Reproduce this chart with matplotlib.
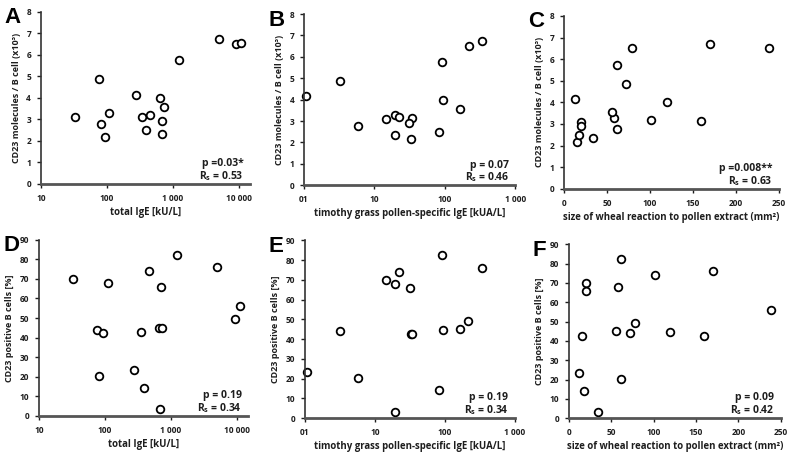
import numpy as np
import matplotlib
matplotlib.use("Agg")
import matplotlib.pyplot as plt
from matplotlib.ticker import FixedLocator, FixedFormatter, NullLocator

plt.rcParams['font.family'] = ['Open Sans', 'DejaVu Sans']
plt.rcParams['font.weight'] = 'bold'
plt.rcParams['mathtext.fontset'] = 'custom'
plt.rcParams['mathtext.rm'] = 'Open Sans:bold'

# one value per patient (17 patients)
total_ige = [33, 76, 82, 93, 110, 275, 345, 395, 460, 650, 685, 700, 740, 1250, 5000, 9200, 11000]
specific_ige = [14.5, 3.2, 5.8, 33, 19.5, 1.08, 33.8, 81.5, 22.3, 93, 19.5, 31.5, 164, 91, 335, 218, np.nan]
wheal = [20.3, 72.5, 61, 15, 58.5, 12.5, 159, 17.5, 101.5, 119.5, 34, 20.3, 55.3, 61.8, 169.5, 78.5, 238.5]
cd23_molecules = [3.1, 4.87, 2.77, 2.18, 3.28, 4.15, 3.12, 2.5, 3.2, 4.0, 2.33, 2.93, 3.55, 5.75, 6.72, 6.52, 6.53]
cd23_pct = [69.8, 44, 20.5, 42.5, 68, 23.3, 42.7, 14.3, 74, 44.8, 3.3, 66, 45, 82.3, 76, 49.3, 56]

ige_ticks = [10, 100, 1000, 10000]
ige_labels = ["10", "100", "1 000", "10 000"]
spec_ticks = [1, 10, 100, 1000]
spec_labels = ["01", "10", "100", "1 000"]

ylab_mol = "CD23 molecules / B cell (x10³)"
ylab_pct = "CD23 positive B cells [%]"
xlab_ige = "total IgE [kU/L]"
xlab_spec = "timothy grass pollen-specific IgE [kUA/L]"
xlab_wheal = "size of wheal reaction to pollen extract (mm²)"

stats = {
    "A": ("p =0.03*", "0.53"),
    "B": ("p = 0.07", "0.46"),
    "C": ("p =0.008**", "0.63"),
    "D": ("p = 0.19", "0.34"),
    "E": ("p = 0.19", "0.34"),
    "F": ("p = 0.09", "0.42"),
}

TXT = '#1e1e1e'

fig = plt.figure(figsize=(8, 4.55), dpi=100)


def panel(rect, letter, x, y, xlabel, ylabel, ymax, ystep, log=False,
          xticks=None, xlabels=None, xlim=None):
    ax = fig.add_axes(rect)
    ax.plot(x, y, 'o', ms=5.5, mfc='white', mec='black', mew=1.3, clip_on=False)
    if log:
        ax.set_xscale('log')
        ax.xaxis.set_major_locator(FixedLocator(xticks))
        ax.xaxis.set_major_formatter(FixedFormatter(xlabels))
        ax.xaxis.set_minor_locator(NullLocator())
    else:
        ax.set_xticks(np.arange(0, 251, 50))
    ax.set_xlim(*xlim)
    ax.set_ylim(0, ymax)
    ax.set_yticks(np.arange(0, ymax + 1, ystep))
    for s in ['top', 'right']:
        ax.spines[s].set_visible(False)
    ax.spines['bottom'].set_linewidth(2)
    ax.spines['bottom'].set_color('#555555')
    ax.spines['left'].set_linewidth(1.2)
    ax.spines['left'].set_color('#333333')
    ax.tick_params(axis='both', labelsize=6, colors=TXT, length=3, width=1, pad=4)
    for lab in ax.get_xticklabels() + ax.get_yticklabels():
        lab.set_fontweight('bold')
    ax.set_xlabel(xlabel, fontsize=6.9, color=TXT, labelpad=3, fontweight='bold')
    ax.set_ylabel(ylabel, fontsize=6.5, color=TXT, labelpad=4, fontweight='bold')
    p, r = stats[letter]
    ax.text(0.97, 0.085, p, transform=ax.transAxes, ha='right', va='bottom',
            fontsize=7.5, color=TXT)
    ax.text(0.97, 0.005, "R$_{\\mathregular{s}}$ = " + r, transform=ax.transAxes,
            ha='right', va='bottom', fontsize=7.5, color=TXT)
    fig.text(rect[0] - 0.045, rect[1] + rect[3] + 0.01, letter, fontsize=16,
             fontweight='bold', family='Liberation Sans', ha='left', va='top')
    return ax


panel([0.051, 0.596, 0.261, 0.378], "A", total_ige, cd23_molecules, xlab_ige, ylab_mol,
      8, 1, log=True, xticks=ige_ticks, xlabels=ige_labels, xlim=(10, 14700))
panel([0.380, 0.593, 0.264, 0.376], "B", specific_ige, cd23_molecules, xlab_spec, ylab_mol,
      8, 1, log=True, xticks=spec_ticks, xlabels=spec_labels, xlim=(1, 1000))
panel([0.705, 0.585, 0.269, 0.380], "C", wheal, cd23_molecules, xlab_wheal, ylab_mol,
      8, 1, xlim=(0, 250))
panel([0.049, 0.086, 0.261, 0.387], "D", total_ige, cd23_pct, xlab_ige, ylab_pct,
      90, 10, log=True, xticks=ige_ticks, xlabels=ige_labels, xlim=(10, 14700))
panel([0.381, 0.081, 0.2625, 0.391], "E", specific_ige, cd23_pct, xlab_spec, ylab_pct,
      90, 10, log=True, xticks=spec_ticks, xlabels=spec_labels, xlim=(1, 1000))
panel([0.711, 0.081, 0.265, 0.382], "F", wheal, cd23_pct, xlab_wheal, ylab_pct,
      90, 10, xlim=(0, 250))

fig.savefig("out.png", dpi=100)
